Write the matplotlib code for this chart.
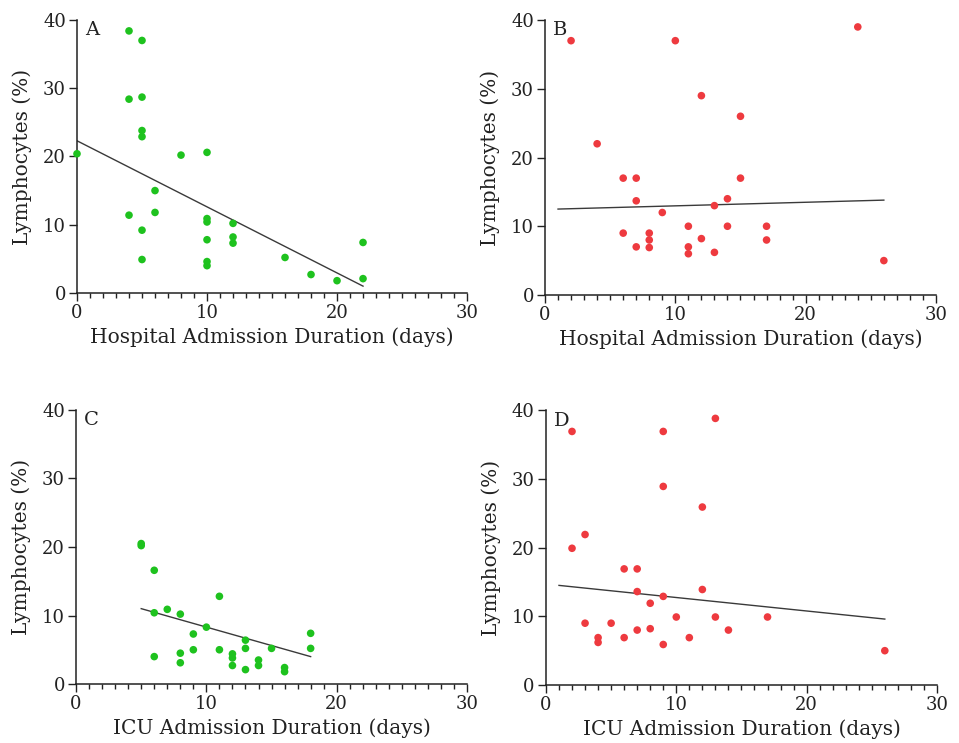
import matplotlib
matplotlib.use("Agg")
import matplotlib.pyplot as plt
import numpy as np
from matplotlib.ticker import MultipleLocator

plt.rcParams['font.family'] = ['DejaVu Serif']

# Panel A: hospital admission duration vs lymphocytes (group 1, green)
a_x = [4, 5, 4, 5, 5, 5, 0, 8, 10, 6, 4, 6, 5, 5, 10, 10, 10, 10, 10, 12, 12, 12, 16, 18, 20, 22, 22]
a_y = [38.4, 37.0, 28.4, 28.7, 23.8, 22.9, 20.4, 20.2, 20.6, 15.0, 11.4, 11.8, 9.2, 4.9,
       10.9, 10.4, 7.8, 4.6, 4.0, 10.2, 8.2, 7.3, 5.2, 2.7, 1.8, 7.4, 2.1]
a_fit_x = [0, 22]
a_fit_y = [22.3, 1.0]

# Panel B: hospital admission duration vs lymphocytes (group 2, red)
b_x = [2, 10, 24, 12, 15, 4, 6, 7, 15, 7, 14, 13, 9, 6, 8, 8, 8, 7, 11, 11, 11, 12, 13, 14, 17, 17, 26]
b_y = [37.0, 37.0, 39.0, 29.0, 26.0, 22.0, 17.0, 17.0, 17.0, 13.7, 14.0, 13.0, 12.0, 9.0, 9.0,
       8.0, 6.9, 7.0, 10.0, 7.0, 6.0, 8.2, 6.2, 10.0, 10.0, 8.0, 5.0]
b_fit_x = [1, 26]
b_fit_y = [12.5, 13.8]

# Panel C: ICU admission duration vs lymphocytes (group 1, green)
c_x = [5, 5, 6, 6, 6, 7, 8, 8, 8, 9, 9, 10, 11, 11, 12, 12, 12, 13, 13, 13, 14, 14, 15, 16, 16, 18, 18]
c_y = [20.5, 20.2, 16.6, 10.4, 4.0, 10.9, 10.2, 4.5, 3.1, 7.3, 5.0, 8.3, 12.8, 5.0, 4.4, 3.8,
       2.7, 6.4, 5.2, 2.1, 3.5, 2.7, 5.2, 2.4, 1.8, 7.4, 5.2]
c_fit_x = [5, 18]
c_fit_y = [11.0, 4.0]

# Panel D: ICU admission duration vs lymphocytes (group 2, red)
d_x = [2, 13, 9, 9, 12, 3, 2, 6, 7, 7, 12, 9, 8, 3, 5, 4, 4, 6, 7, 8, 9, 10, 11, 13, 14, 17, 26]
d_y = [36.9, 38.8, 36.9, 28.9, 25.9, 21.9, 19.9, 16.9, 16.9, 13.6, 13.9, 12.9, 11.9, 9.0, 9.0,
       6.9, 6.2, 6.9, 8.0, 8.2, 5.9, 9.9, 6.9, 9.9, 8.0, 9.9, 5.0]
d_fit_x = [1, 26]
d_fit_y = [14.5, 9.6]

panel_letters = ['A', 'B', 'C', 'D']
x_labels = ['Hospital Admission Duration (days)', 'Hospital Admission Duration (days)',
            'ICU Admission Duration (days)', 'ICU Admission Duration (days)']
y_label = 'Lymphocytes (%)'
x_ticks = [0, 10, 20, 30]
y_ticks = [0, 10, 20, 30, 40]

GREEN = '#1ec21e'
RED = '#ee3a3f'

fig = plt.figure(figsize=(9.59, 7.43), dpi=100)

positions = [
    [0.0803, 0.6057, 0.4067, 0.3674],
    [0.5683, 0.6030, 0.4077, 0.3700],
    [0.0793, 0.0794, 0.4077, 0.3688],
    [0.5693, 0.0780, 0.4077, 0.3700],
]
panels = [
    (a_x, a_y, a_fit_x, a_fit_y, GREEN),
    (b_x, b_y, b_fit_x, b_fit_y, RED),
    (c_x, c_y, c_fit_x, c_fit_y, GREEN),
    (d_x, d_y, d_fit_x, d_fit_y, RED),
]

for i, (pos, (xs, ys, fx, fy, col)) in enumerate(zip(positions, panels)):
    ax = fig.add_axes(pos)
    ax.scatter(xs, ys, s=30, color=col, edgecolors='none', zorder=3, clip_on=False)
    ax.plot(fx, fy, color='#3a3a3a', lw=1.0, zorder=2)
    ax.set_xlim(0, 30)
    ax.set_ylim(0, 40)
    ax.set_xticks(x_ticks)
    ax.set_yticks(y_ticks)
    ax.xaxis.set_minor_locator(MultipleLocator(1))
    for s in ['top', 'right']:
        ax.spines[s].set_visible(False)
    for s in ['left', 'bottom']:
        ax.spines[s].set_linewidth(1.1)
        ax.spines[s].set_color('#222222')
    ax.tick_params(axis='both', which='major', direction='out', length=6, width=1.0,
                   labelsize=13, color='#222222', labelcolor='#222222', pad=2)
    ax.tick_params(axis='x', which='minor', direction='out', length=3.5, width=1.0, color='#222222')
    ax.set_xlabel(x_labels[i], fontsize=14.5, color='#222222', labelpad=4)
    ax.set_ylabel(y_label, fontsize=14.5, color='#222222', labelpad=8)
    ax.text(0.02, 0.995, panel_letters[i], transform=ax.transAxes, fontsize=14,
            va='top', ha='left', color='#222222')

fig.savefig('out.png', dpi=100)
